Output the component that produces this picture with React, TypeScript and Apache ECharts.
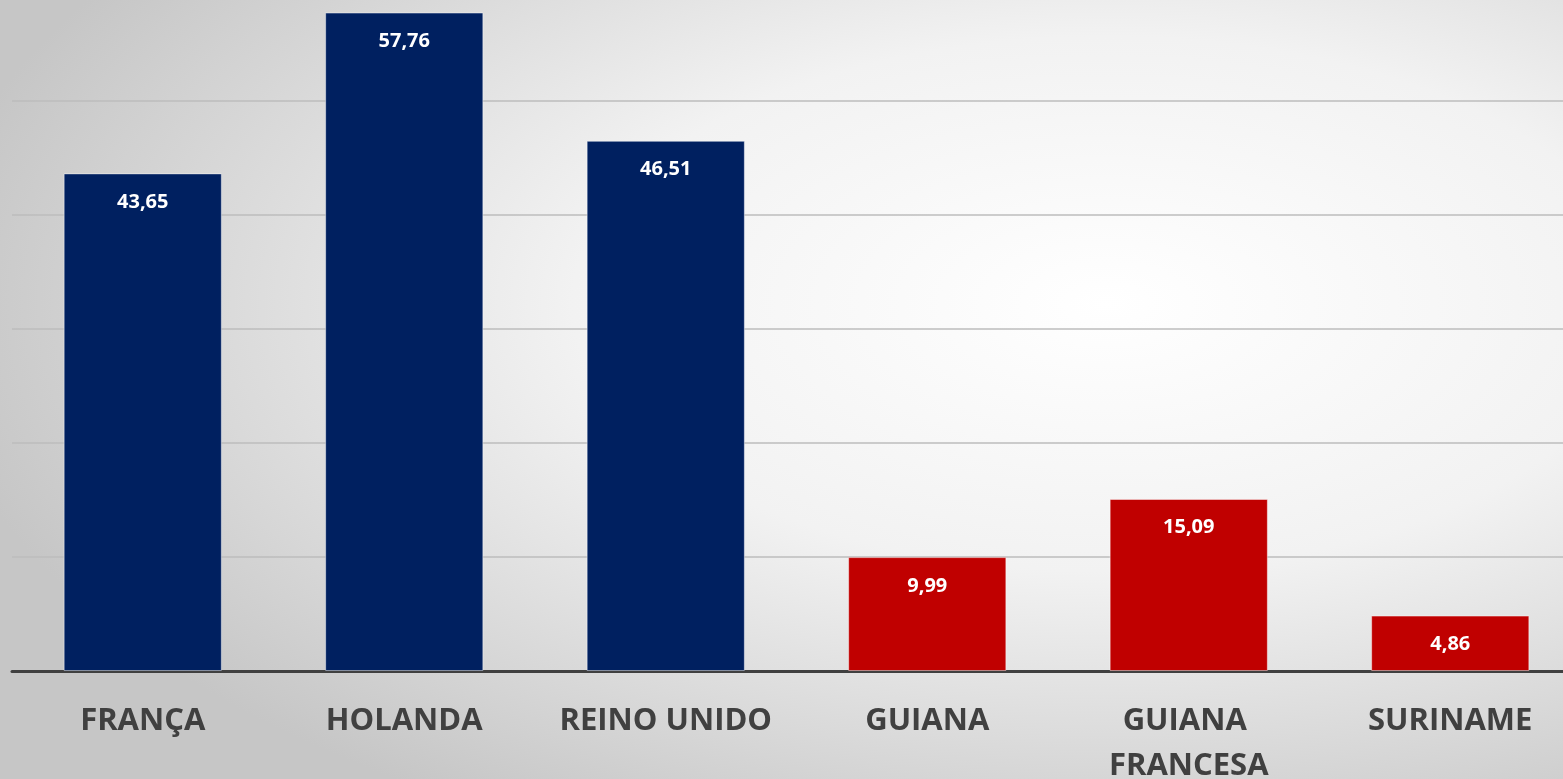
import React, { useEffect, useRef } from "react";
import * as echarts from "echarts";

const categories = ["FRANÇA", "HOLANDA", "REINO UNIDO", "GUIANA", "GUIANA FRANCESA", "SURINAME"];
const values = [43.65, 57.76, 46.51, 9.99, 15.09, 4.86];
const barColors = ["#002060", "#002060", "#002060", "#C00000", "#C00000", "#C00000"];

export default function App() {
  const ref = useRef<HTMLDivElement>(null);
  useEffect(() => {
    if (!ref.current) return;
    const chart = echarts.init(ref.current, undefined, { renderer: "svg" });
    chart.setOption({
      animation: false,
      backgroundColor: {
        type: "radial",
        x: 0.7,
        y: 0.4,
        r: 0.75,
        colorStops: [
          { offset: 0, color: "#ffffff" },
          { offset: 0.45, color: "#f2f2f2" },
          { offset: 1, color: "#c6c6c6" },
        ],
      },
      grid: { left: 12, right: 0, top: 0, bottom: 108, containLabel: false, outerBoundsMode: "none" },
      xAxis: {
        type: "category",
        data: categories,
        axisLine: { lineStyle: { color: "#404040", width: 3 } },
        axisTick: { show: false },
        axisLabel: {
          color: "#404040",
          fontFamily: "Open Sans",
          fontWeight: "bold",
          fontSize: 31,
          lineHeight: 45,
          margin: 24,
          width: 240,
          overflow: "break",
          interval: 0,
        },
      },
      yAxis: {
        type: "value",
        min: 0,
        max: 60,
        interval: 10,
        axisLabel: { show: false },
        axisLine: { show: false },
        axisTick: { show: false },
        splitLine: { lineStyle: { color: "#bdbdbd", width: 1.5 } },
      },
      series: [
        {
          type: "bar",
          barWidth: "60.5%",
          data: values.map((v, i) => ({
            value: v,
            itemStyle: { color: barColors[i], borderColor: "rgba(255,255,255,0.45)", borderWidth: 1 },
          })),
          label: {
            show: true,
            position: "insideTop",
            distance: 17,
            color: "#ffffff",
            fontFamily: "Open Sans",
            fontWeight: "bold",
            fontSize: 20,
            formatter: (p: any) => p.value.toFixed(2).replace(".", ","),
          },
        },
      ],
    });
    return () => chart.dispose();
  }, []);
  return (
    <div
      style={{ position: "fixed", left: 0, top: 0, width: 1563, height: 779, overflow: "hidden" }}
    >
      <div
        ref={ref}
        style={{ position: "absolute", left: 0, top: -13, width: 1581, height: 792 }}
      />
    </div>
  );
}
